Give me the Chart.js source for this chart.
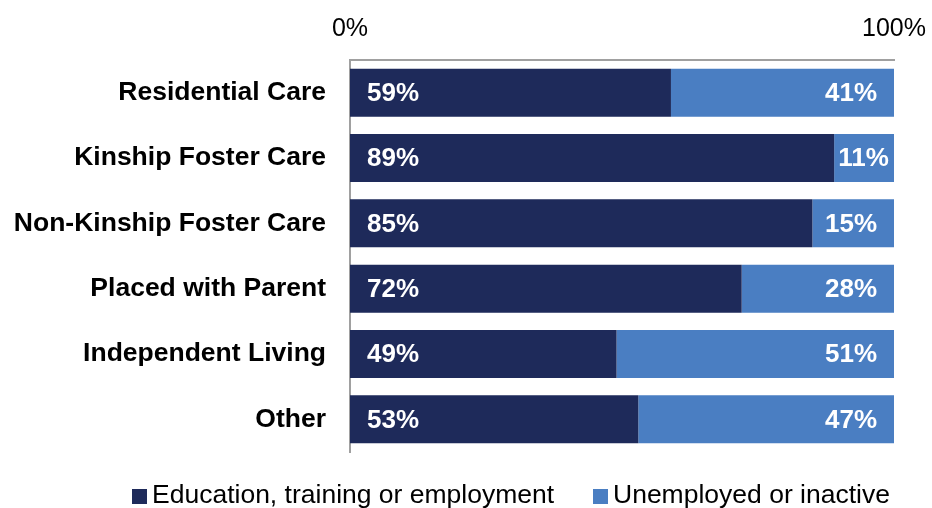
<!DOCTYPE html>
<html lang="en">
<head>
  <meta charset="UTF-8">
  <title>Outcomes by placement type</title>
  <script src="https://cdn.jsdelivr.net/npm/chart.js@4"></script>
  <style>
    * { margin: 0; padding: 0; box-sizing: border-box; }
    html, body { width: 932px; height: 508px; background: #fff; overflow: hidden; }
    .wrap { position: relative; width: 932px; height: 508px; }
  </style>
</head>
<body>
  <div class="wrap"><canvas id="chart"></canvas></div>
  <script>
    const placements = ['Residential Care', 'Kinship Foster Care', 'Non-Kinship Foster Care', 'Placed with Parent', 'Independent Living', 'Other']
    const employed = [59, 89, 85, 72, 49, 53]
    const inactive = [41, 11, 15, 28, 51, 47]
    const seriesNames = ['Education, training or employment', 'Unemployed or inactive']
    const xTicks = [0, 100]

    const dark = '#1E2A5A'
    const light = '#4A7EC2'
    const axisGrey = '#A0A0A0'
    const fontFamily = "'Liberation Sans', Arial, sans-serif"

    // white % labels inside the bars: first series at the start, second at the end
    const barLabels = {
      id: 'barLabels',
      afterDatasetsDraw(chart) {
        const { ctx } = chart
        ctx.save()
        ctx.font = 'bold 26px ' + fontFamily
        ctx.fillStyle = '#fff'
        ctx.textBaseline = 'middle'
        chart.data.datasets.forEach((ds, di) => {
          chart.getDatasetMeta(di).data.forEach((bar, i) => {
            const text = ds.data[i] + '%'
            const w = ctx.measureText(text).width
            const start = Math.min(bar.base, bar.x)
            const end = Math.max(bar.base, bar.x)
            ctx.textAlign = 'left'
            const x = di === 0 ? start + 17 : Math.max(end - 17 - w, start + 4)
            ctx.fillText(text, x, bar.y + 1)
          })
        })
        ctx.restore()
      }
    }

    const bottomLegend = {
      id: 'bottomLegend',
      afterDraw(chart) {
        const { ctx } = chart
        const startX = [132, 593]
        ctx.save()
        ctx.font = '26.5px ' + fontFamily
        ctx.textBaseline = 'alphabetic'
        ctx.textAlign = 'left'
        chart.data.datasets.forEach((ds, i) => {
          ctx.fillStyle = ds.backgroundColor
          ctx.fillRect(startX[i], 489, 15, 15)
          ctx.fillStyle = '#000'
          ctx.fillText(ds.label, startX[i] + 20, 503)
        })
        ctx.restore()
      }
    }

    new Chart(document.getElementById('chart'), {
      type: 'bar',
      data: {
        labels: placements,
        datasets: [
          { label: seriesNames[0], data: employed, backgroundColor: dark, barPercentage: 0.735, categoryPercentage: 1 },
          { label: seriesNames[1], data: inactive, backgroundColor: light, barPercentage: 0.735, categoryPercentage: 1 }
        ]
      },
      options: {
        indexAxis: 'y',
        responsive: true,
        maintainAspectRatio: false,
        animation: false,
        layout: { padding: { left: 0, right: 38, top: 0, bottom: 56 } },
        plugins: { legend: { display: false }, tooltip: { enabled: false } },
        scales: {
          x: {
            position: 'top',
            stacked: true,
            min: 0,
            max: 100,
            afterFit: s => { s.height = 60; s.paddingLeft = 0; s.paddingRight = 0 },
            afterBuildTicks: s => { s.ticks = xTicks.map(v => ({ value: v })) },
            grid: { display: false, drawTicks: false },
            border: { display: true, color: axisGrey, width: 2 },
            ticks: { color: '#000', padding: 16, font: { family: fontFamily, size: 25 }, callback: v => v + '%' }
          },
          y: {
            stacked: true,
            afterFit: s => { s.width = 350; s.paddingTop = 0; s.paddingBottom = 0 },
            grid: { display: false, drawTicks: false },
            border: { display: true, color: axisGrey, width: 2 },
            ticks: { color: '#000', padding: 24, font: { family: fontFamily, size: 26.5, weight: 'bold' } }
          }
        }
      },
      plugins: [barLabels, bottomLegend]
    })
  </script>
</body>
</html>
